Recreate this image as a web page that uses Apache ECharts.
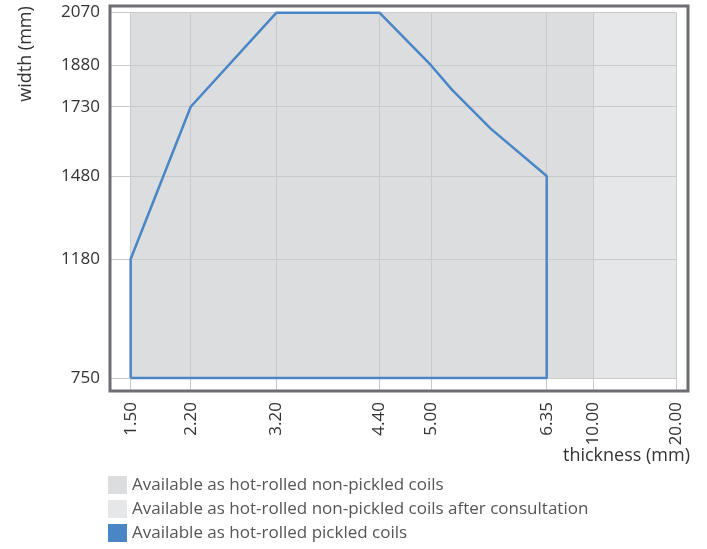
<!DOCTYPE html>
<html>
<head>
<meta charset="utf-8">
<script src="https://cdn.jsdelivr.net/npm/echarts@6/dist/echarts.min.js"></script>
<style>html,body{margin:0;padding:0;background:#fff}#c{width:707px;height:549px}</style>
</head>
<body>
<div id="c"></div>
<script>
// ---- data ----
const xTickValues = [1.5, 2.2, 3.2, 4.4, 5.0, 6.35, 10, 20];
const xTickLabels = ['1.50', '2.20', '3.20', '4.40', '5.00', '6.35', '10.00', '20.00'];
const yTickValues = [750, 1180, 1480, 1730, 1880, 2070];
const pickledThickness = [1.5, 1.5, 2.2, 3.2, 4.4, 5.0, 5.25, 5.7, 6.35, 6.35, 1.5];
const pickledWidth = [750, 1180, 1730, 2070, 2070, 1880, 1790, 1650, 1480, 750, 750];
const nonPickledThickness = [1.5, 10];
const nonPickledWidth = [750, 2070];
const consultThickness = [10, 20];
const consultWidth = [750, 2070];
const seriesNames = [
  'Available as hot-rolled non-pickled coils',
  'Available as hot-rolled non-pickled coils after consultation',
  'Available as hot-rolled pickled coils'
];

// piecewise thickness axis (linear up to 6.35, compressed beyond)
const scaleKnotsIn = [0, 6.35, 10, 20];
const scaleKnotsOut = [0, 6.35, 6.89, 7.858];
function T(v) {
  for (let i = 1; i < scaleKnotsIn.length; i++) {
    if (v <= scaleKnotsIn[i]) {
      const a = scaleKnotsIn[i - 1], b = scaleKnotsIn[i];
      return scaleKnotsOut[i - 1] + (v - a) / (b - a) * (scaleKnotsOut[i] - scaleKnotsOut[i - 1]);
    }
  }
  return scaleKnotsOut[scaleKnotsOut.length - 1];
}
const X_MIN = 1.259, X_MAX = 7.997, Y_MIN = 703, Y_MAX = 2094;

const FONT = 'Open Sans';
const gridColor = '#c9cacc';
const blue = '#4a85c6';

const gridLines = [];
yTickValues.forEach(y => gridLines.push([{ coord: [X_MIN, y] }, { coord: [T(20), y] }]));
xTickValues.forEach(x => gridLines.push([{ coord: [T(x), Y_MIN] }, { coord: [T(x), 2070] }]));

const chart = echarts.init(document.getElementById('c'), null, { renderer: 'canvas' });
chart.setOption({
  animation: false,
  backgroundColor: '#fff',
  grid: { left: 110, right: 19, top: 6, bottom: 158, show: true, borderColor: '#6d6e71', borderWidth: 3, backgroundColor: 'transparent', z: 10 },
  xAxis: {
    type: 'value', min: X_MIN, max: X_MAX,
    splitLine: { show: false }, axisTick: { show: false },
    axisLine: { show: false },
    axisLabel: {
      customValues: xTickValues.map(T), rotate: 90, margin: 11,
      fontFamily: FONT, fontSize: 17, color: '#333',
      formatter: function (v) {
        let best = 0, d = Infinity;
        xTickValues.forEach((x, i) => { const e = Math.abs(T(x) - v); if (e < d) { d = e; best = i; } });
        return xTickLabels[best];
      }
    }
  },
  yAxis: {
    type: 'value', min: Y_MIN, max: Y_MAX,
    splitLine: { show: false }, axisTick: { show: false },
    axisLine: { show: false },
    axisLabel: { customValues: yTickValues, margin: 10, fontFamily: FONT, fontSize: 17, color: '#333',
      formatter: v => String(v) }
  },
  legend: {
    orient: 'vertical', left: 108, top: 476, height: 100, padding: 0,
    itemWidth: 19, itemHeight: 18, itemGap: 6,
    icon: 'rect', data: seriesNames, selectedMode: false,
    textStyle: { fontFamily: FONT, fontSize: 17, color: '#555', lineHeight: 18 }
  },
  graphic: [
    { type: 'text', x: 26, y: 54, rotation: Math.PI / 2, style: { text: 'width (mm)', fontFamily: FONT, fontSize: 18, fill: '#333', align: 'center', verticalAlign: 'middle' } },
    { type: 'text', x: 690, y: 456, style: { text: 'thickness (mm)', fontFamily: FONT, fontSize: 18, fill: '#333', align: 'right', verticalAlign: 'middle' } }
  ],
  series: [
    {
      name: seriesNames[0], type: 'line', data: [], z: 1, color: '#dcdddf',
      itemStyle: { color: '#dcdddf' },
      markArea: { silent: true, z: 1, itemStyle: { color: '#dcdddf' },
        data: [[{ coord: [T(nonPickledThickness[0]), nonPickledWidth[0]] }, { coord: [T(nonPickledThickness[1]), nonPickledWidth[1]] }]] }
    },
    {
      name: seriesNames[1], type: 'line', data: [], z: 1, color: '#e6e7e9',
      itemStyle: { color: '#e6e7e9' },
      markArea: { silent: true, z: 1, itemStyle: { color: '#e6e7e9' },
        data: [[{ coord: [T(consultThickness[0]), consultWidth[0]] }, { coord: [T(consultThickness[1]), consultWidth[1]] }]] }
    },
    {
      type: 'line', data: [], z: 2,
      markLine: { silent: true, z: 2, symbol: ['none', 'none'], label: { show: false },
        lineStyle: { color: gridColor, width: 1, type: 'solid' }, emphasis: { disabled: true }, data: gridLines }
    },
    {
      name: seriesNames[2], type: 'line', z: 8, color: blue, showSymbol: false, symbol: 'none',
      itemStyle: { color: blue },
      lineStyle: { color: blue, width: 2.5 },
      data: pickledThickness.map((t, i) => [T(t), pickledWidth[i]])
    }
  ]
});
</script>
</body>
</html>
